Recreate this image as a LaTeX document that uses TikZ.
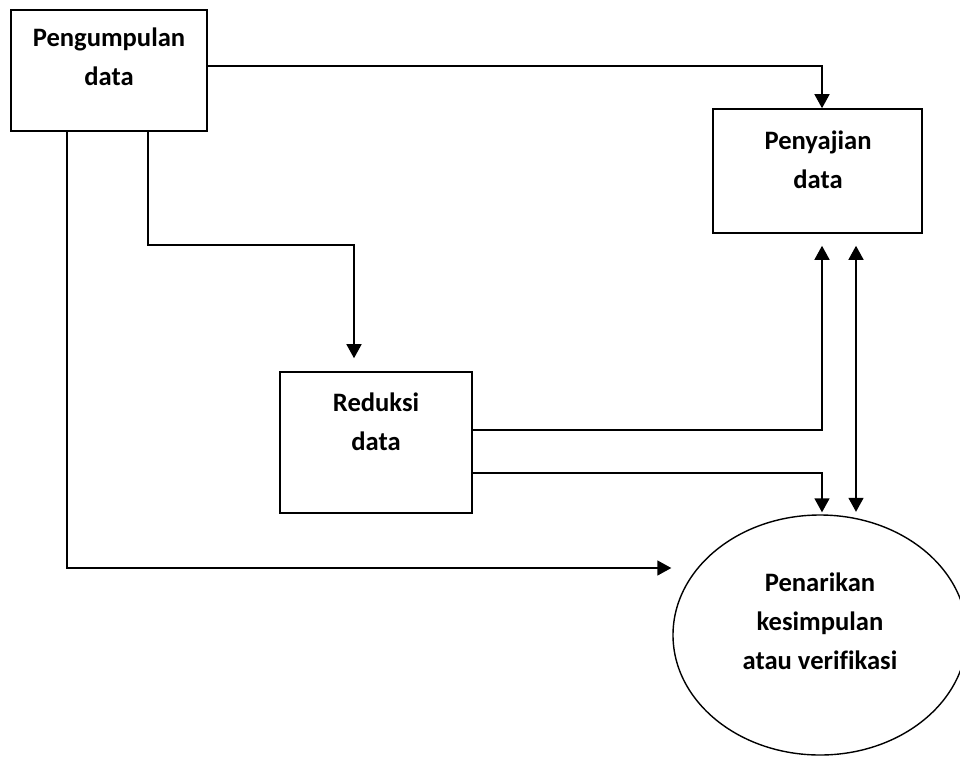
\documentclass[tikz,border=0pt]{standalone}
\usepackage{fontspec}
\setmainfont{Carlito}[Ligatures=NoCommon]
\usetikzlibrary{arrows.meta,shapes.geometric,calc}
\tikzset{
  boxstyle/.style={draw, line width=1.6pt, rectangle, inner sep=0pt},
  ovalstyle/.style={draw, line width=1.4pt, ellipse, inner sep=0pt, minimum width=294pt, minimum height=240pt},
  lbl/.style={align=center, font=\fontsize{26.6}{39}\selectfont\bfseries, inner sep=0pt},
  arr/.style={line width=1.5pt, -{Triangle[length=14pt,width=15pt]}},
  darr/.style={line width=1.5pt, {Triangle[length=14pt,width=15pt]}-{Triangle[length=14pt,width=15pt]}},
  ln/.style={line width=1.4pt}
}
\begin{document}
\begin{tikzpicture}[x=1pt,y=-1pt]
\useasboundingbox (0,0) rectangle (960,756);
% boxes
\node[boxstyle, minimum width=196pt, minimum height=121pt] (pk) at (109,70.5) {};
\node[boxstyle, minimum width=209pt, minimum height=124pt] (pj) at (817.5,171) {};
\node[boxstyle, minimum width=192pt, minimum height=141pt] (rd) at (376,442.5) {};
\node[ovalstyle] (pn) at (820,635) {};
% texts
\node[lbl] (tpk) at (109,57) {Pengumpulan\\data};
\node[lbl] (tpj) at (818,160) {Penyajian\\data};
\node[lbl] (trd) at (376,422) {Reduksi\\data};
\node[lbl] (tpn) at (820,621) {Penarikan\\kesimpulan\\atau verifikasi};
% bend points
\coordinate (a1) at (822,66);
\coordinate (a2) at (148,245);
\coordinate (a3) at (354,245);
\coordinate (a4) at (67,568);
\coordinate (a5) at (822,430);
\coordinate (a6) at (822,473);
\coordinate (a7) at (856,380);
% connectors
\draw[arr] (pk.east |- a1) -- (a1) -- (a1 |- pj.north);
\draw[arr, shorten >=13pt] (a2 |- pk.south) -- (a2) -- (a3) -- (a3 |- rd.north);
\draw[arr] (a4 |- pk.south) -- (a4) -- ($(a4 -| pn.west)+(-1,0)$);
\draw[arr, shorten >=12pt] (a5 -| rd.east) -- (a5) -- (a5 |- pj.south);
\draw[arr, shorten >=2pt] (a6 -| rd.east) -- (a6) -- (a6 |- pn.north);
\draw[darr, shorten <=12pt, shorten >=5.5pt] (a7 |- pj.south) -- ($(a7 |- pn.north)+(0,3)$);
\end{tikzpicture}
\end{document}
